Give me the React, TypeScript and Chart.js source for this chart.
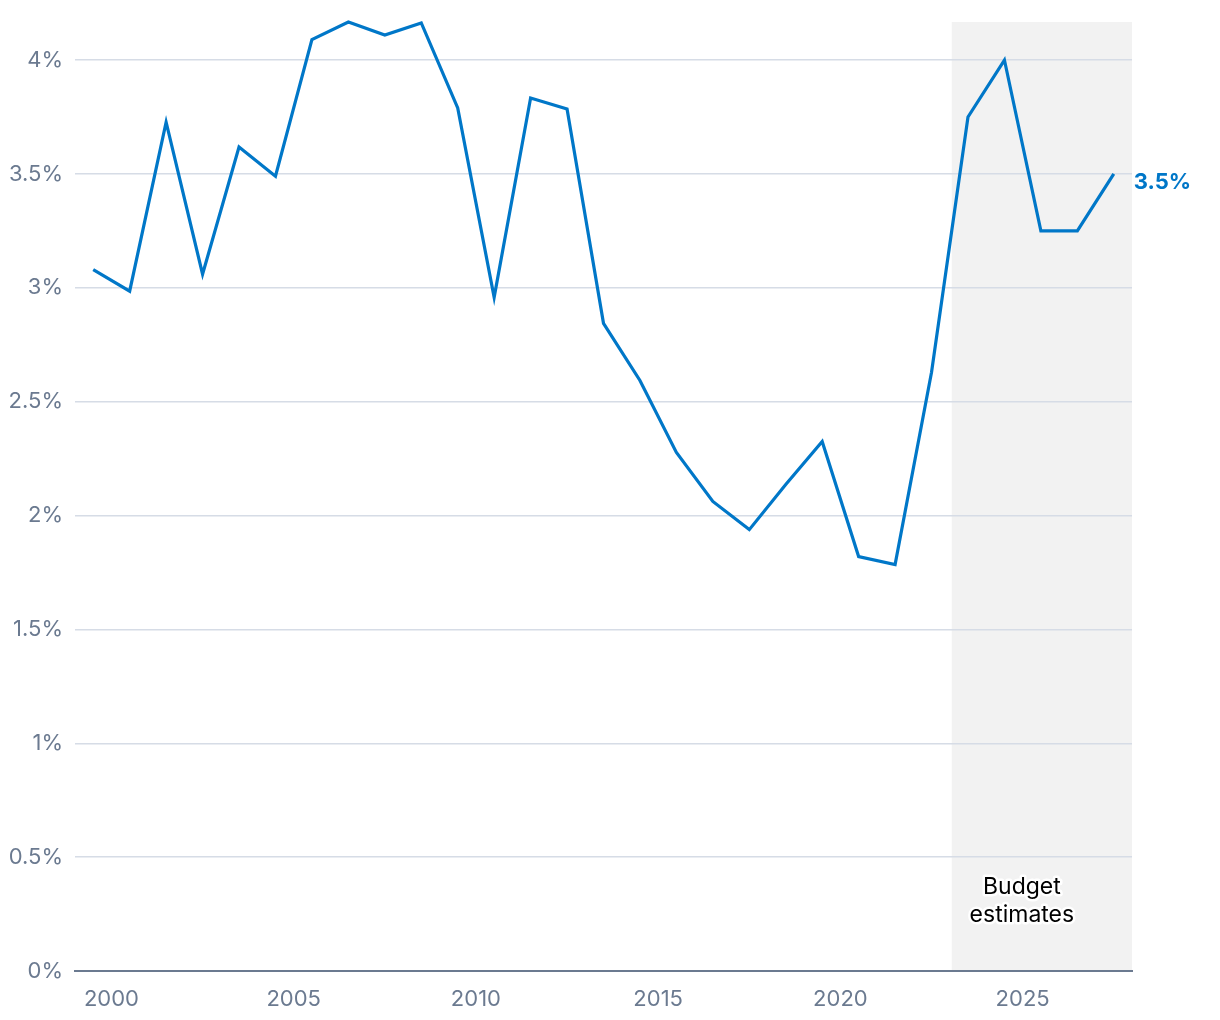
import React, { useEffect, useRef } from "react";
import { Chart, registerables } from "chart.js";

Chart.register(...registerables);

const years = [
  1999.5, 2000.5, 2001.5, 2002.5, 2003.5, 2004.5, 2005.5, 2006.5, 2007.5, 2008.5,
  2009.5, 2010.5, 2011.5, 2012.5, 2013.5, 2014.5, 2015.5, 2016.5, 2017.5, 2018.5,
  2019.5, 2020.5, 2021.5, 2022.5, 2023.5, 2024.5, 2025.5, 2026.5, 2027.5,
];
const values = [
  3.08, 2.985, 3.727, 3.06, 3.618, 3.49, 4.09, 4.167, 4.11, 4.163,
  3.79, 2.958, 3.833, 3.785, 2.844, 2.593, 2.277, 2.062, 1.938, 2.136,
  2.325, 1.82, 1.785, 2.629, 3.75, 4.0, 3.25, 3.25, 3.5,
];
const xTicks = [2000, 2005, 2010, 2015, 2020, 2025];
const yTicks = [0, 0.5, 1, 1.5, 2, 2.5, 3, 3.5, 4];
const estimateStart = 2023;
const estimateEnd = 2028;
const estimateLabel = ["Budget", "estimates"];
const endLabel = "3.5%";

const BLUE = "#0077c8";
const TICK = "#6b7a90";
const FONT = "Inter, 'Noto Sans', sans-serif";

export default function App() {
  const ref = useRef<HTMLCanvasElement | null>(null);

  useEffect(() => {
    document.body.style.margin = "0";
    const ctx = ref.current!.getContext("2d")!;

    const shade = {
      id: "shade",
      beforeDraw(chart: any) {
        const { ctx, chartArea, scales } = chart;
        const x0 = scales.x.getPixelForValue(estimateStart) + 2;
        const x1 = scales.x.getPixelForValue(estimateEnd);
        ctx.save();
        ctx.fillStyle = "#f2f2f2";
        ctx.fillRect(x0, chartArea.top, x1 - x0, chartArea.bottom - chartArea.top);
        ctx.restore();
      },
      afterDatasetsDraw(chart: any) {
        const { ctx, scales } = chart;
        const cx = scales.x.getPixelForValue((estimateStart + estimateEnd) / 2) - 19;
        ctx.save();
        ctx.font = `400 23px ${FONT}`;
        ctx.textAlign = "center";
        ctx.textBaseline = "middle";
        ctx.lineJoin = "round";
        estimateLabel.forEach((t, i) => {
          const y = 887 + i * 28;
          ctx.strokeStyle = "#ffffff";
          ctx.lineWidth = 5;
          ctx.strokeText(t, cx, y);
          ctx.fillStyle = "#000000";
          ctx.fillText(t, cx, y);
        });
        const meta = chart.getDatasetMeta(0);
        const last = meta.data[meta.data.length - 1];
        ctx.font = `700 22px ${FONT}`;
        ctx.textAlign = "left";
        ctx.fillStyle = BLUE;
        ctx.fillText(endLabel, last.x + 20, last.y + 8);
        ctx.restore();
      },
    };

    const chart = new Chart(ctx, {
      type: "line",
      data: {
        datasets: [
          {
            data: years.map((y, i) => ({ x: y, y: values[i] })),
            borderColor: BLUE,
            borderWidth: 3.2,
            pointRadius: 0,
            tension: 0,
            fill: false,
            clip: false,
          } as any,
        ],
      },
      options: {
        animation: false,
        responsive: false,
        maintainAspectRatio: false,
        layout: { padding: { top: 22, right: 88, left: 0, bottom: 0 } },
        plugins: { legend: { display: false }, tooltip: { enabled: false } },
        scales: {
          x: {
            type: "linear",
            min: 1999,
            max: 2028,
            afterBuildTicks: (s: any) => {
              s.ticks = xTicks.map((v) => ({ value: v }));
            },
            afterFit: (s: any) => {
              s.height = 49;
              s.paddingLeft = 0;
              s.paddingRight = 0;
            },
            grid: { display: false, drawTicks: false },
            border: { color: TICK, width: 2 },
            ticks: {
              color: TICK,
              font: { family: FONT, size: 22 },
              padding: 15,
              callback: (v: any) => String(v),
            },
          },
          y: {
            min: 0,
            max: Math.max(...values),
            afterBuildTicks: (s: any) => {
              s.ticks = yTicks.map((v) => ({ value: v }));
            },
            afterFit: (s: any) => {
              s.width = 75;
              s.paddingTop = 0;
              s.paddingBottom = 0;
            },
            grid: { color: "#d6dce6", lineWidth: 1.5, drawTicks: false },
            border: { display: false },
            ticks: {
              color: TICK,
              font: { family: FONT, size: 22 },
              padding: 12,
              callback: (v: any) => `${v}%`,
            },
          },
        },
      },
      plugins: [shade],
    });
    return () => chart.destroy();
  }, []);

  return <canvas ref={ref} width={1220} height={1020} style={{ display: "block" }} />;
}
